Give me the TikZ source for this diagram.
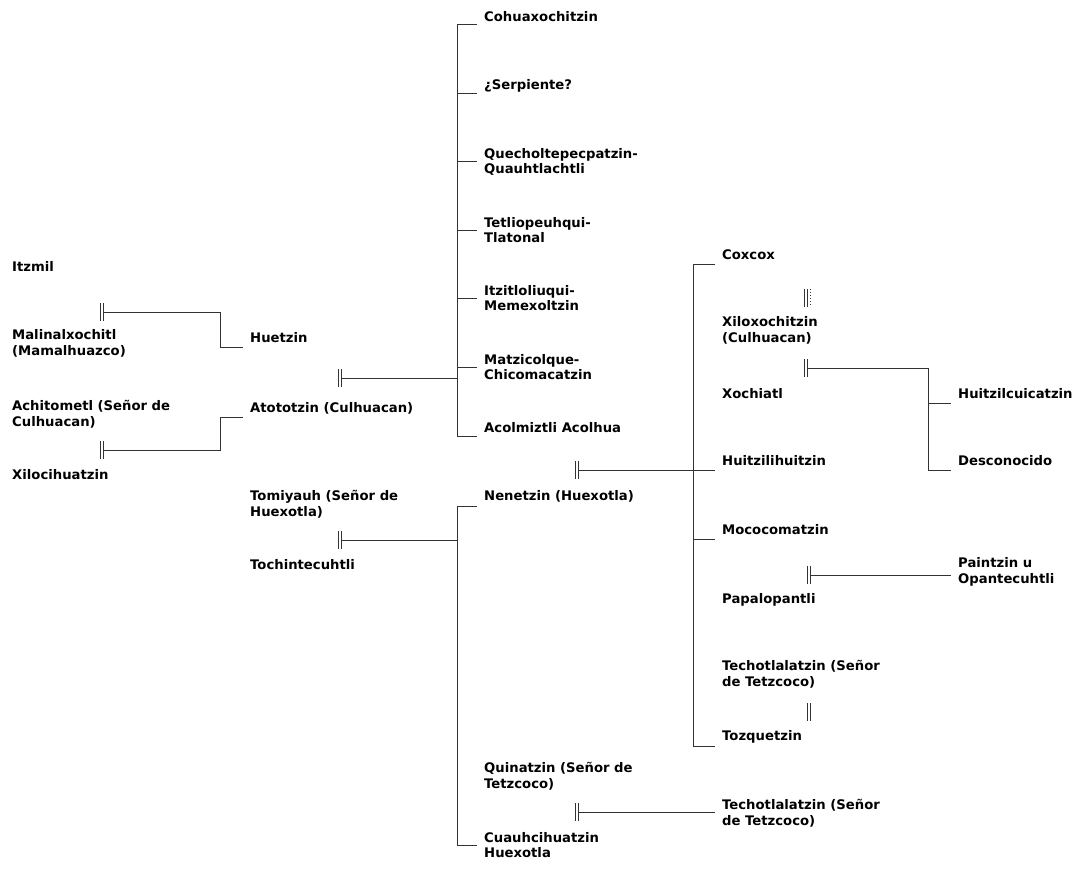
\documentclass[tikz,border=0pt]{standalone}
\usepackage{fontspec}
\setmainfont{DejaVu Sans}
\tikzset{
  person/.style={anchor=west, align=left, inner xsep=7pt, inner ysep=0pt,
    font=\bfseries\fontsize{13.2}{15.8}\selectfont},
  wed/.style={minimum width=2.6pt, minimum height=17pt, inner sep=0pt},
  kin/.style={draw=black!80, line width=1pt},
}
\begin{document}
\begin{tikzpicture}[x=1pt,y=-1pt]
  \useasboundingbox (0,0) rectangle (1086,869);
  \draw
    (5,266) node[person] (itzmil){Itzmil}
    (5,343) node[person] (malinal){Malinalxochitl\\(Mamalhuazco)}
    (5,414) node[person] (achito){Achitometl (Señor de\\Culhuacan)}
    (5,475) node[person] (xiloci){Xilocihuatzin}
    (243,338) node[person] (huetzin){Huetzin}
    (243,408) node[person] (atototzin){Atototzin (Culhuacan)}
    (243,504) node[person] (tomiyauh){Tomiyauh (Señor de\\Huexotla)}
    (243,565) node[person] (tochin){Tochintecuhtli}
    (477,17) node[person] (cohua){Cohuaxochitzin}
    (477,86) node[person] (serp){¿Serpiente?}
    (477,162) node[person] (quech){Quecholtepecpatzin-\\Quauhtlachtli}
    (477,230) node[person] (tetlio){Tetliopeuhqui-\\Tlatonal}
    (477,298) node[person] (itzit){Itzitloliuqui-\\Memexoltzin}
    (477,367) node[person] (matzi){Matzicolque-\\Chicomacatzin}
    (477,428) node[person] (acolm){Acolmiztli Acolhua}
    (477,496) node[person] (nenetzin){Nenetzin (Huexotla)}
    (477,776) node[person] (quinatzin){Quinatzin (Señor de\\Tetzcoco)}
    (477,845) node[person] (cuauh){Cuauhcihuatzin\\Huexotla}
    (715,255) node[person] (coxcox){Coxcox}
    (715,330) node[person] (xiloxo){Xiloxochitzin\\(Culhuacan)}
    (715,394) node[person] (xochiatl){Xochiatl}
    (715,461) node[person] (huitzili){Huitzilihuitzin}
    (715,530) node[person] (mococ){Mococomatzin}
    (715,600) node[person] (papalo){Papalopantli}
    (715,674) node[person] (techoA){Techotlalatzin (Señor\\de Tetzcoco)}
    (715,737) node[person] (tozq){Tozquetzin}
    (715,813) node[person] (techoB){Techotlalatzin (Señor\\de Tetzcoco)}
    (951,394) node[person] (huitzilc){Huitzilcuicatzin}
    (951,461) node[person] (descon){Desconocido}
    (951,572) node[person] (paintzin){Paintzin u\\Opantecuhtli};
  % marriages
  \draw
    (102,312) node[wed] (m1){}
    (102,450) node[wed] (m2){}
    (340,378) node[wed] (m3){}
    (340,540) node[wed] (m4){}
    (577,470) node[wed] (m5){}
    (577,812) node[wed] (m6){}
    (806,298) node[wed] (m7){}
    (806,368) node[wed] (m8){}
    (809,575) node[wed] (m9){}
    (809,712) node[wed] (m10){};
  \coordinate (j1) at (220,347);
  \coordinate (j2) at (220,417);
  \coordinate (ta) at (457,25);
  \coordinate (tb) at (457,436);
  \coordinate (tc) at (457,506);
  \coordinate (td) at (457,845);
  \coordinate (te) at (693,264);
  \coordinate (tf) at (693,746);
  \coordinate (tg) at (928,470);
  \begin{scope}[kin]
    \foreach \m in {m1,m2,m3,m4,m5,m6,m7,m8,m9,m10}
      \draw (\m.north west) -- (\m.south west) (\m.north east) -- (\m.south east);
    \draw[dotted] ([xshift=4pt]m7.north) -- ([xshift=4pt]m7.south);
    \draw (m1) -| (j1) -- (j1 -| huetzin.west);
    \draw (m2) -| (j2) -- (j2 -| atototzin.west);
    \draw (m3) -- (m3 -| ta);
    \draw (m4) -- (m4 -| tc);
    \draw (m5) -- (m5 -| huitzili.west);
    \draw (m6) -- (m6 -| techoB.west);
    \draw (m8) -| (tg);
    \draw (m9) -- (m9 -| paintzin.west);
    \draw (ta) -- (tb);
    \draw (tc) -- (td);
    \draw (te) -- (tf);
    \foreach \n/\y in {cohua/25,serp/94,quech/162,tetlio/230,itzit/298,matzi/367,acolm/436,nenetzin/506,cuauh/845}
      \draw (457,\y) -- (\n.west |- 0,\y);
    \foreach \n/\y in {coxcox/264,huitzili/470,mococ/539,tozq/746}
      \draw (693,\y) -- (\n.west |- 0,\y);
    \foreach \n/\y in {huitzilc/403,descon/470}
      \draw (928,\y) -- (\n.west |- 0,\y);
  \end{scope}
\end{tikzpicture}
\end{document}
